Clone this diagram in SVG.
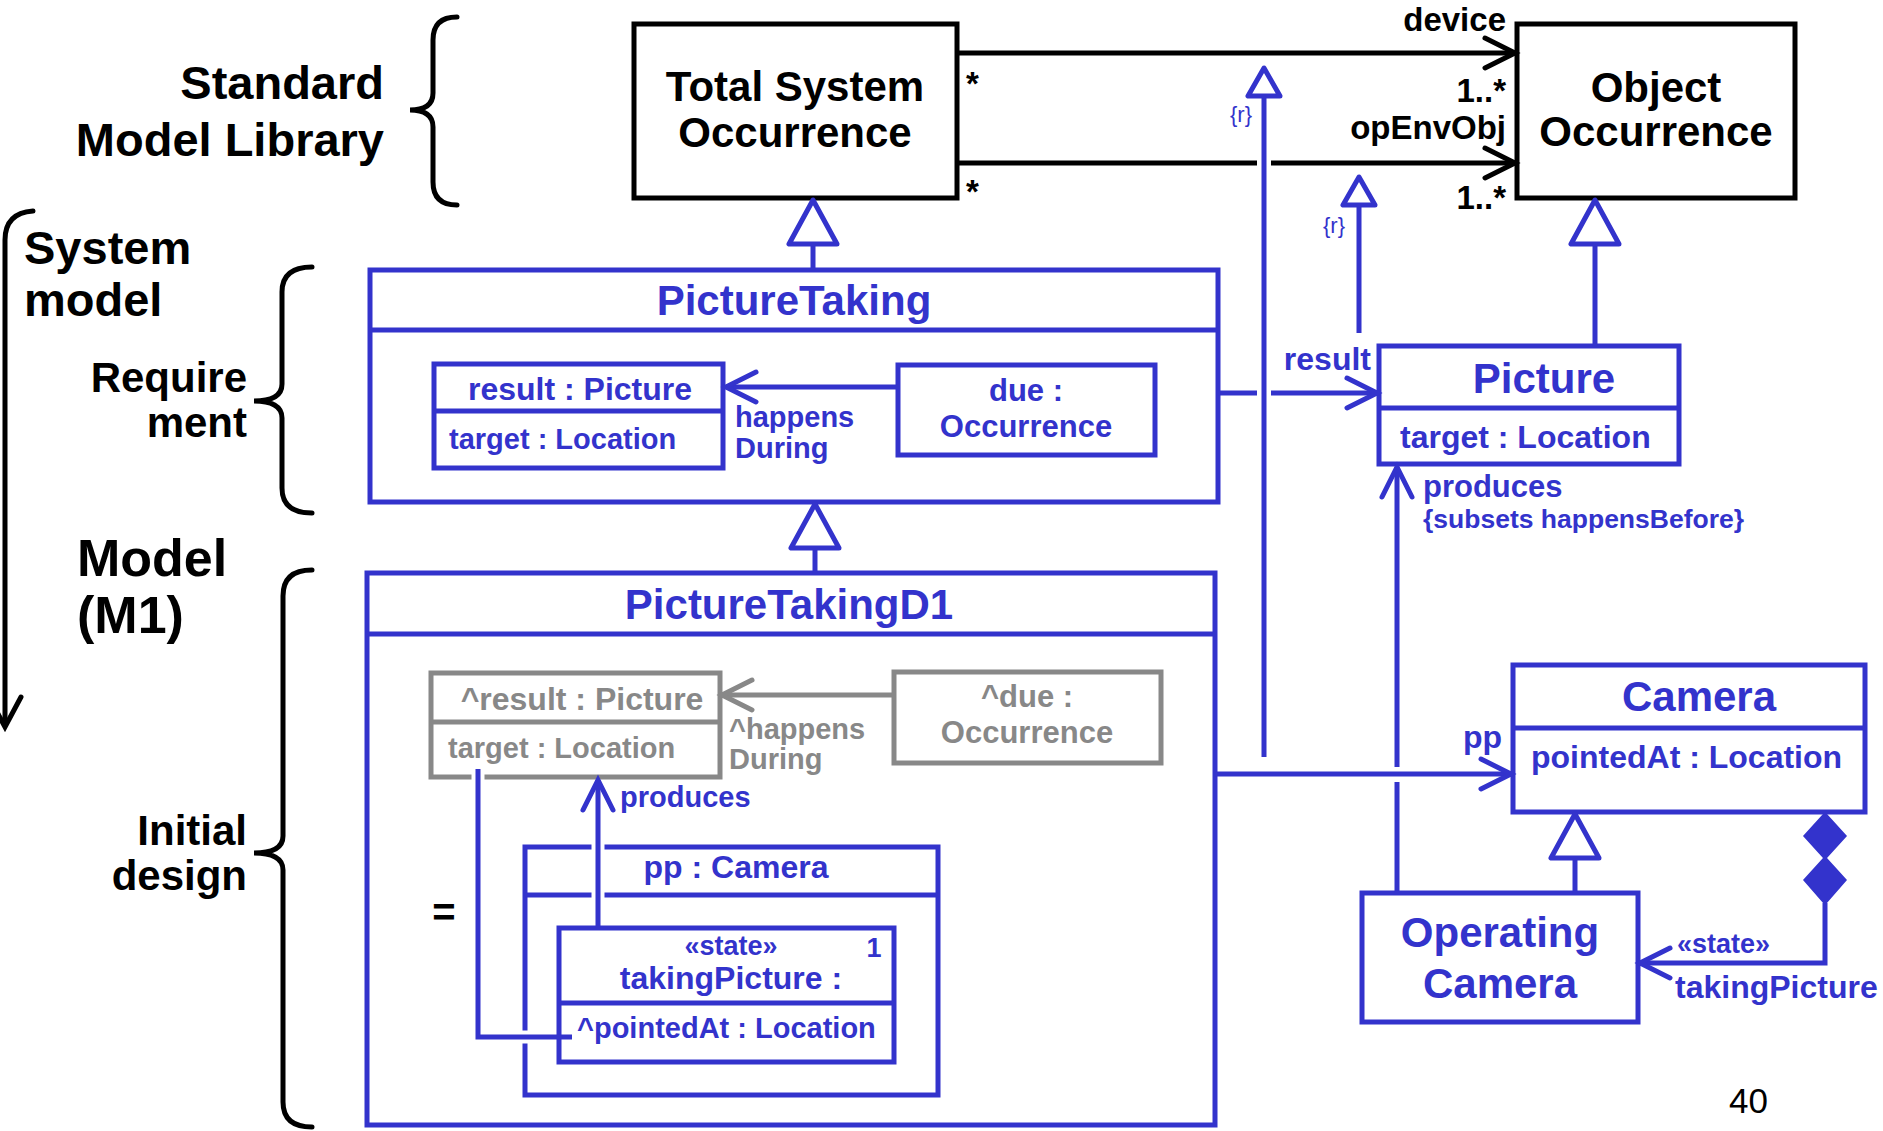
<svg xmlns="http://www.w3.org/2000/svg" width="1883" height="1131" viewBox="0 0 1883 1131">
  <style>
    text { font-family: "Liberation Sans", Arial, sans-serif; font-weight: bold; }
    .lbl { fill: #000; }
    .bl { fill: #33c; }
    .gr { fill: #888; }
    .reg { font-weight: normal; }
    .mid { text-anchor: middle; }
    .end { text-anchor: end; }
    .f47 { font-size: 47px; }
    .f52 { font-size: 52px; }
    .f42 { font-size: 42px; }
    .f33 { font-size: 33px; }
    .f32 { font-size: 32px; }
    .f31 { font-size: 31px; }
    .f29 { font-size: 29px; }
    .f27 { font-size: 27px; }
    .kbox { fill: #fff; stroke: #000; stroke-width: 5; }
    .bbox { fill: #fff; stroke: #33c; stroke-width: 5; }
    .gbox { fill: #fff; stroke: #888; stroke-width: 5; }
    .bline { fill: none; stroke: #33c; stroke-width: 5; }
    .kline { fill: none; stroke: #000; stroke-width: 5; }
    .gline { fill: none; stroke: #888; stroke-width: 5; }
    .brace { fill: none; stroke: #000; stroke-width: 5; stroke-linecap: round; }
    .gap { fill: none; stroke: #fff; stroke-width: 13; }
  </style>
  <defs>
    <marker id="openBlue" markerUnits="userSpaceOnUse" markerWidth="40" markerHeight="40" viewBox="-35 -20 40 40" refX="0" refY="0" orient="auto" overflow="visible">
      <path d="M -30 -15 L 0 0 L -30 15" fill="none" stroke="#33c" stroke-width="5" stroke-linecap="round"/>
    </marker>
    <marker id="openBlack" markerUnits="userSpaceOnUse" markerWidth="40" markerHeight="40" viewBox="-35 -20 40 40" refX="0" refY="0" orient="auto" overflow="visible">
      <path d="M -30 -15 L 0 0 L -30 15" fill="none" stroke="#000" stroke-width="5" stroke-linecap="round"/>
    </marker>
    <marker id="openGrey" markerUnits="userSpaceOnUse" markerWidth="40" markerHeight="40" viewBox="-35 -20 40 40" refX="0" refY="0" orient="auto" overflow="visible">
      <path d="M -30 -15 L 0 0 L -30 15" fill="none" stroke="#888" stroke-width="5" stroke-linecap="round"/>
    </marker>
    <marker id="genBig" markerUnits="userSpaceOnUse" markerWidth="60" markerHeight="60" viewBox="-50 -30 60 60" refX="0" refY="0" orient="auto" overflow="visible">
      <path d="M 0 0 L -44 -24 L -44 24 Z" fill="#fff" stroke="#33c" stroke-width="5" stroke-linejoin="round"/>
    </marker>
    <marker id="genSmall" markerUnits="userSpaceOnUse" markerWidth="40" markerHeight="40" viewBox="-35 -20 40 40" refX="0" refY="0" orient="auto" overflow="visible">
      <path d="M 0 0 L -28 -16 L -28 16 Z" fill="#fff" stroke="#33c" stroke-width="5" stroke-linejoin="round"/>
    </marker>
  </defs>

  <rect x="0" y="0" width="1883" height="1131" fill="#fff"/>

  <!-- level labels and braces -->
  <g id="levels">
    <text class="lbl f47 end" x="384" y="99">Standard</text>
    <text class="lbl f47 end" x="384" y="156">Model Library</text>
    <path class="brace" d="M 457 17 Q 433 17 433 40 L 433 93 Q 433 110 410 110 Q 433 110 433 127 L 433 182 Q 433 205 457 205"/>

    <text class="lbl f47" x="24" y="264">System</text>
    <text class="lbl f47" x="24" y="316">model</text>
    <path class="brace" d="M 33 211 Q 5 213 5 240 L 5 725"/>
    <path class="brace" d="M -11 697 L 5 727 L 21 697"/>

    <text class="lbl f42 end" x="247" y="392">Require</text>
    <text class="lbl f42 end" x="247" y="437">ment</text>
    <path class="brace" d="M 312 267 Q 282 267 282 292 L 282 384 Q 282 401 254 401 Q 282 401 282 418 L 282 488 Q 282 513 312 513"/>

    <text class="lbl f52" x="77" y="576">Model</text>
    <text class="lbl f52" x="77" y="633">(M1)</text>

    <text class="lbl f42 end" x="247" y="845">Initial</text>
    <text class="lbl f42 end" x="247" y="890">design</text>
    <path class="brace" d="M 312 570 Q 283 570 283 596 L 283 836 Q 283 853 254 853 Q 283 853 283 870 L 283 1102 Q 283 1127 312 1127"/>
  </g>

  <!-- library classes -->
  <g id="TotalSystemOccurrence">
    <rect class="kbox" x="634" y="24" width="323" height="174"/>
    <text class="lbl f42 mid" x="795" y="101">Total System</text>
    <text class="lbl f42 mid" x="795" y="147">Occurrence</text>
  </g>
  <g id="ObjectOccurrence">
    <rect class="kbox" x="1517" y="24" width="278" height="174"/>
    <text class="lbl f42 mid" x="1656" y="102">Object</text>
    <text class="lbl f42 mid" x="1656" y="146">Occurrence</text>
  </g>

  <!-- requirement -->
  <g id="PictureTaking">
    <rect class="bbox" x="370" y="270" width="848" height="232"/>
    <line class="bline" x1="370" y1="330" x2="1218" y2="330"/>
    <text class="bl f42 mid" x="794" y="315">PictureTaking</text>
  </g>
  <g id="resultPart">
    <rect class="bbox" x="434" y="364" width="289" height="104"/>
    <line class="bline" x1="434" y1="411" x2="723" y2="411"/>
    <text class="bl f32 mid" x="580" y="400">result : Picture</text>
    <text class="bl f29" x="449" y="449">target : Location</text>
  </g>
  <g id="duePart">
    <rect class="bbox" x="898" y="365" width="257" height="90"/>
    <text class="bl f31 mid" x="1026" y="401">due :</text>
    <text class="bl f31 mid" x="1026" y="437">Occurrence</text>
  </g>
  <g id="Picture">
    <rect class="bbox" x="1379" y="346" width="300" height="118"/>
    <line class="bline" x1="1379" y1="408" x2="1679" y2="408"/>
    <text class="bl f42 mid" x="1544" y="393">Picture</text>
    <text class="bl f32" x="1400" y="448">target : Location</text>
  </g>

  <!-- initial design -->
  <g id="PictureTakingD1">
    <rect class="bbox" x="367" y="573" width="848" height="552"/>
    <line class="bline" x1="367" y1="634" x2="1215" y2="634"/>
    <text class="bl f42 mid" x="789" y="619">PictureTakingD1</text>
    <text class="lbl mid" font-size="40" x="444" y="926">=</text>
  </g>
  <g id="resultRedefined">
    <rect class="gbox" x="431" y="673" width="289" height="104"/>
    <line class="gline" x1="431" y1="722" x2="720" y2="722"/>
    <text class="gr f32 mid" x="582" y="710">^result : Picture</text>
    <text class="gr f29" x="448" y="758">target : Location</text>
  </g>
  <g id="dueRedefined">
    <rect class="gbox" x="894" y="672" width="267" height="91"/>
    <text class="gr f31 mid" x="1027" y="707">^due :</text>
    <text class="gr f31 mid" x="1027" y="743">Occurrence</text>
  </g>
  <g id="ppPart">
    <rect class="bbox" x="525" y="847" width="413" height="248"/>
    <line class="bline" x1="525" y1="895" x2="938" y2="895"/>
    <text class="bl f32 mid" x="736" y="878">pp : Camera</text>
  </g>
  <g id="takingPictureState">
    <rect class="bbox" x="559" y="928" width="335" height="134"/>
    <line class="bline" x1="559" y1="1003" x2="894" y2="1003"/>
    <text class="bl f27 mid" x="731" y="955">«state»</text>
    <text class="bl f27 mid" x="874" y="957">1</text>
    <text class="bl f32 mid" x="731" y="989">takingPicture :</text>
    <text class="bl f29" x="577" y="1038">^pointedAt : Location</text>
  </g>
  <g id="Camera">
    <rect class="bbox" x="1513" y="665" width="352" height="147"/>
    <line class="bline" x1="1513" y1="728" x2="1865" y2="728"/>
    <text class="bl f42 mid" x="1699" y="711">Camera</text>
    <text class="bl f32" x="1531" y="768">pointedAt : Location</text>
  </g>
  <g id="OperatingCamera">
    <rect class="bbox" x="1362" y="893" width="276" height="129"/>
    <text class="bl f42 mid" x="1500" y="947">Operating</text>
    <text class="bl f42 mid" x="1500" y="998">Camera</text>
  </g>

  <!-- connectors -->
  <g id="connectors">
    <!-- device / opEnvObj associations -->
    <line class="kline" x1="957" y1="53" x2="1515" y2="53" marker-end="url(#openBlack)"/>
    <line class="kline" x1="957" y1="163" x2="1257" y2="163"/>
    <line class="kline" x1="1271" y1="163" x2="1515" y2="163" marker-end="url(#openBlack)"/>
    <text class="lbl f33 end" x="1506" y="31">device</text>
    <text class="lbl f33 end" x="1506" y="102">1..*</text>
    <text class="lbl f33 end" x="1506" y="139">opEnvObj</text>
    <text class="lbl f33 end" x="1506" y="209">1..*</text>
    <text class="lbl f33" x="966" y="95">*</text>
    <text class="lbl f33" x="966" y="203">*</text>

    <!-- generalizations -->
    <line class="bline" x1="813" y1="270" x2="813" y2="200" marker-end="url(#genBig)"/>
    <line class="bline" x1="815" y1="573" x2="815" y2="504" marker-end="url(#genBig)"/>
    <line class="bline" x1="1595" y1="346" x2="1595" y2="200" marker-end="url(#genBig)"/>
    <line class="bline" x1="1575" y1="893" x2="1575" y2="814" marker-end="url(#genBig)"/>

    <!-- redefinitions -->
    <line class="bline" x1="1264" y1="757" x2="1264" y2="68" marker-end="url(#genSmall)"/>
    <text class="bl reg" font-size="22" x="1230" y="122">{r}</text>
    <line class="bline" x1="1359" y1="333" x2="1359" y2="177" marker-end="url(#genSmall)"/>
    <text class="bl reg" font-size="22" x="1323" y="233">{r}</text>

    <!-- result -->
    <line class="bline" x1="1218" y1="393" x2="1257" y2="393"/>
    <line class="bline" x1="1271" y1="393" x2="1377" y2="393" marker-end="url(#openBlue)"/>
    <text class="bl f32 end" x="1371" y="370">result</text>

    <!-- produces (class level) -->
    <line class="bline" x1="1397" y1="893" x2="1397" y2="782"/>
    <line class="bline" x1="1397" y1="767" x2="1397" y2="467" marker-end="url(#openBlue)"/>
    <text class="bl f31" x="1423" y="497">produces</text>
    <text class="bl" font-size="26.5" x="1423" y="528">{subsets happensBefore}</text>

    <!-- pp -->
    <line class="bline" x1="1215" y1="774" x2="1511" y2="774" marker-end="url(#openBlue)"/>
    <text class="bl f32 end" x="1502" y="748">pp</text>

    <!-- takingPicture composition -->
    <polygon points="1825,814 1845,836 1825,858 1805,836" fill="#33c" stroke="#33c" stroke-width="3"/>
    <polygon points="1825,858 1845,880 1825,903 1805,880" fill="#33c" stroke="#33c" stroke-width="3"/>
    <polyline class="bline" points="1825,903 1825,963 1640,963" marker-end="url(#openBlue)"/>
    <text class="bl f27" x="1677" y="953">«state»</text>
    <text class="bl f32" x="1675" y="998">takingPicture</text>

    <!-- happensDuring -->
    <line class="bline" x1="898" y1="387" x2="726" y2="387" marker-end="url(#openBlue)"/>
    <text class="bl f29" x="735" y="427">happens</text>
    <text class="bl f29" x="735" y="458">During</text>

    <line class="gline" x1="894" y1="695" x2="722" y2="695" marker-end="url(#openGrey)"/>
    <text class="gr f29" x="729" y="739">^happens</text>
    <text class="gr f29" x="729" y="769">During</text>

    <!-- produces (part level) -->
    <line class="gap" x1="598" y1="843" x2="598" y2="851"/>
    <line class="gap" x1="598" y1="891" x2="598" y2="899"/>
    <line class="bline" x1="598" y1="928" x2="598" y2="780" marker-end="url(#openBlue)"/>
    <text class="bl f29" x="620" y="807">produces</text>

    <!-- binding target = pointedAt -->
    <line class="gap" x1="478" y1="773" x2="478" y2="782"/>
    <line class="gap" x1="520" y1="1037" x2="530" y2="1037"/>
    <polyline class="bline" points="478,769 478,1037 572,1037"/>
  </g>

  <text class="lbl reg" font-size="35" x="1729" y="1113">40</text>
</svg>
